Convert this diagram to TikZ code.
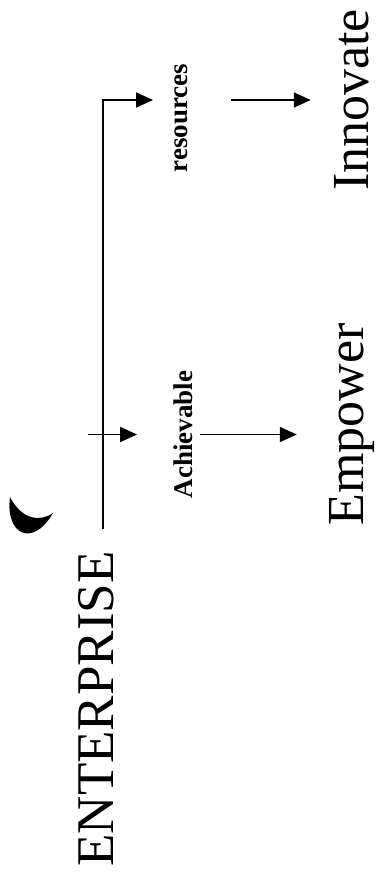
\documentclass[tikz,border=0pt]{standalone}
\usepackage{fontspec}
\setmainfont{Liberation Serif}
\usepackage{tikz}
\usetikzlibrary{positioning,arrows.meta,calc}

\begin{document}
\begin{tikzpicture}[
  x=1pt, y=-1pt,
  >={Triangle[length=17pt,width=15pt]},
  bigword/.style={rotate=90, anchor=base, inner sep=2pt, font=\fontsize{52}{60}\selectfont},
  keyword/.style={rotate=90, anchor=base, inner sep=2pt, font=\fontsize{27}{32}\selectfont\bfseries},
  flow/.style={->, draw=black, line width=1.8pt}
]
  \useasboundingbox (0,0) rectangle (378,879);
  \node[bigword, font=\fontsize{53}{60}\selectfont] (ent) at (113,709) {ENTERPRISE};
  \node[keyword] (achv) at (192,434.5) {Achievable};
  \node[keyword] (res) at (187,118) {resources};
  \node[bigword] (emp) at (363,424.5) {Empower};
  \node[bigword] (innov) at (368,100) {Innovate};
  \coordinate (crossfrom) at (88,434.5);
  % branch from the root
  \draw[flow, shorten >=19pt] ([xshift=7pt,yshift=20pt]ent.east) |- (res.north |- innov.north);
  \draw[flow, shorten >=34pt] (crossfrom) -- (achv.north);
  \draw[flow, shorten <=6pt, shorten >=30pt] (achv.south) -- (achv.south -| emp.north);
  \draw[flow, shorten <=41pt, shorten >=21pt] (res.south |- innov.north) -- (innov.north);
  % crescent mark
  \fill (10,497) .. controls (5,535) and (33,548) .. (53,513) .. controls (40,522) and (22,520) .. (10,497);
\end{tikzpicture}
\end{document}
